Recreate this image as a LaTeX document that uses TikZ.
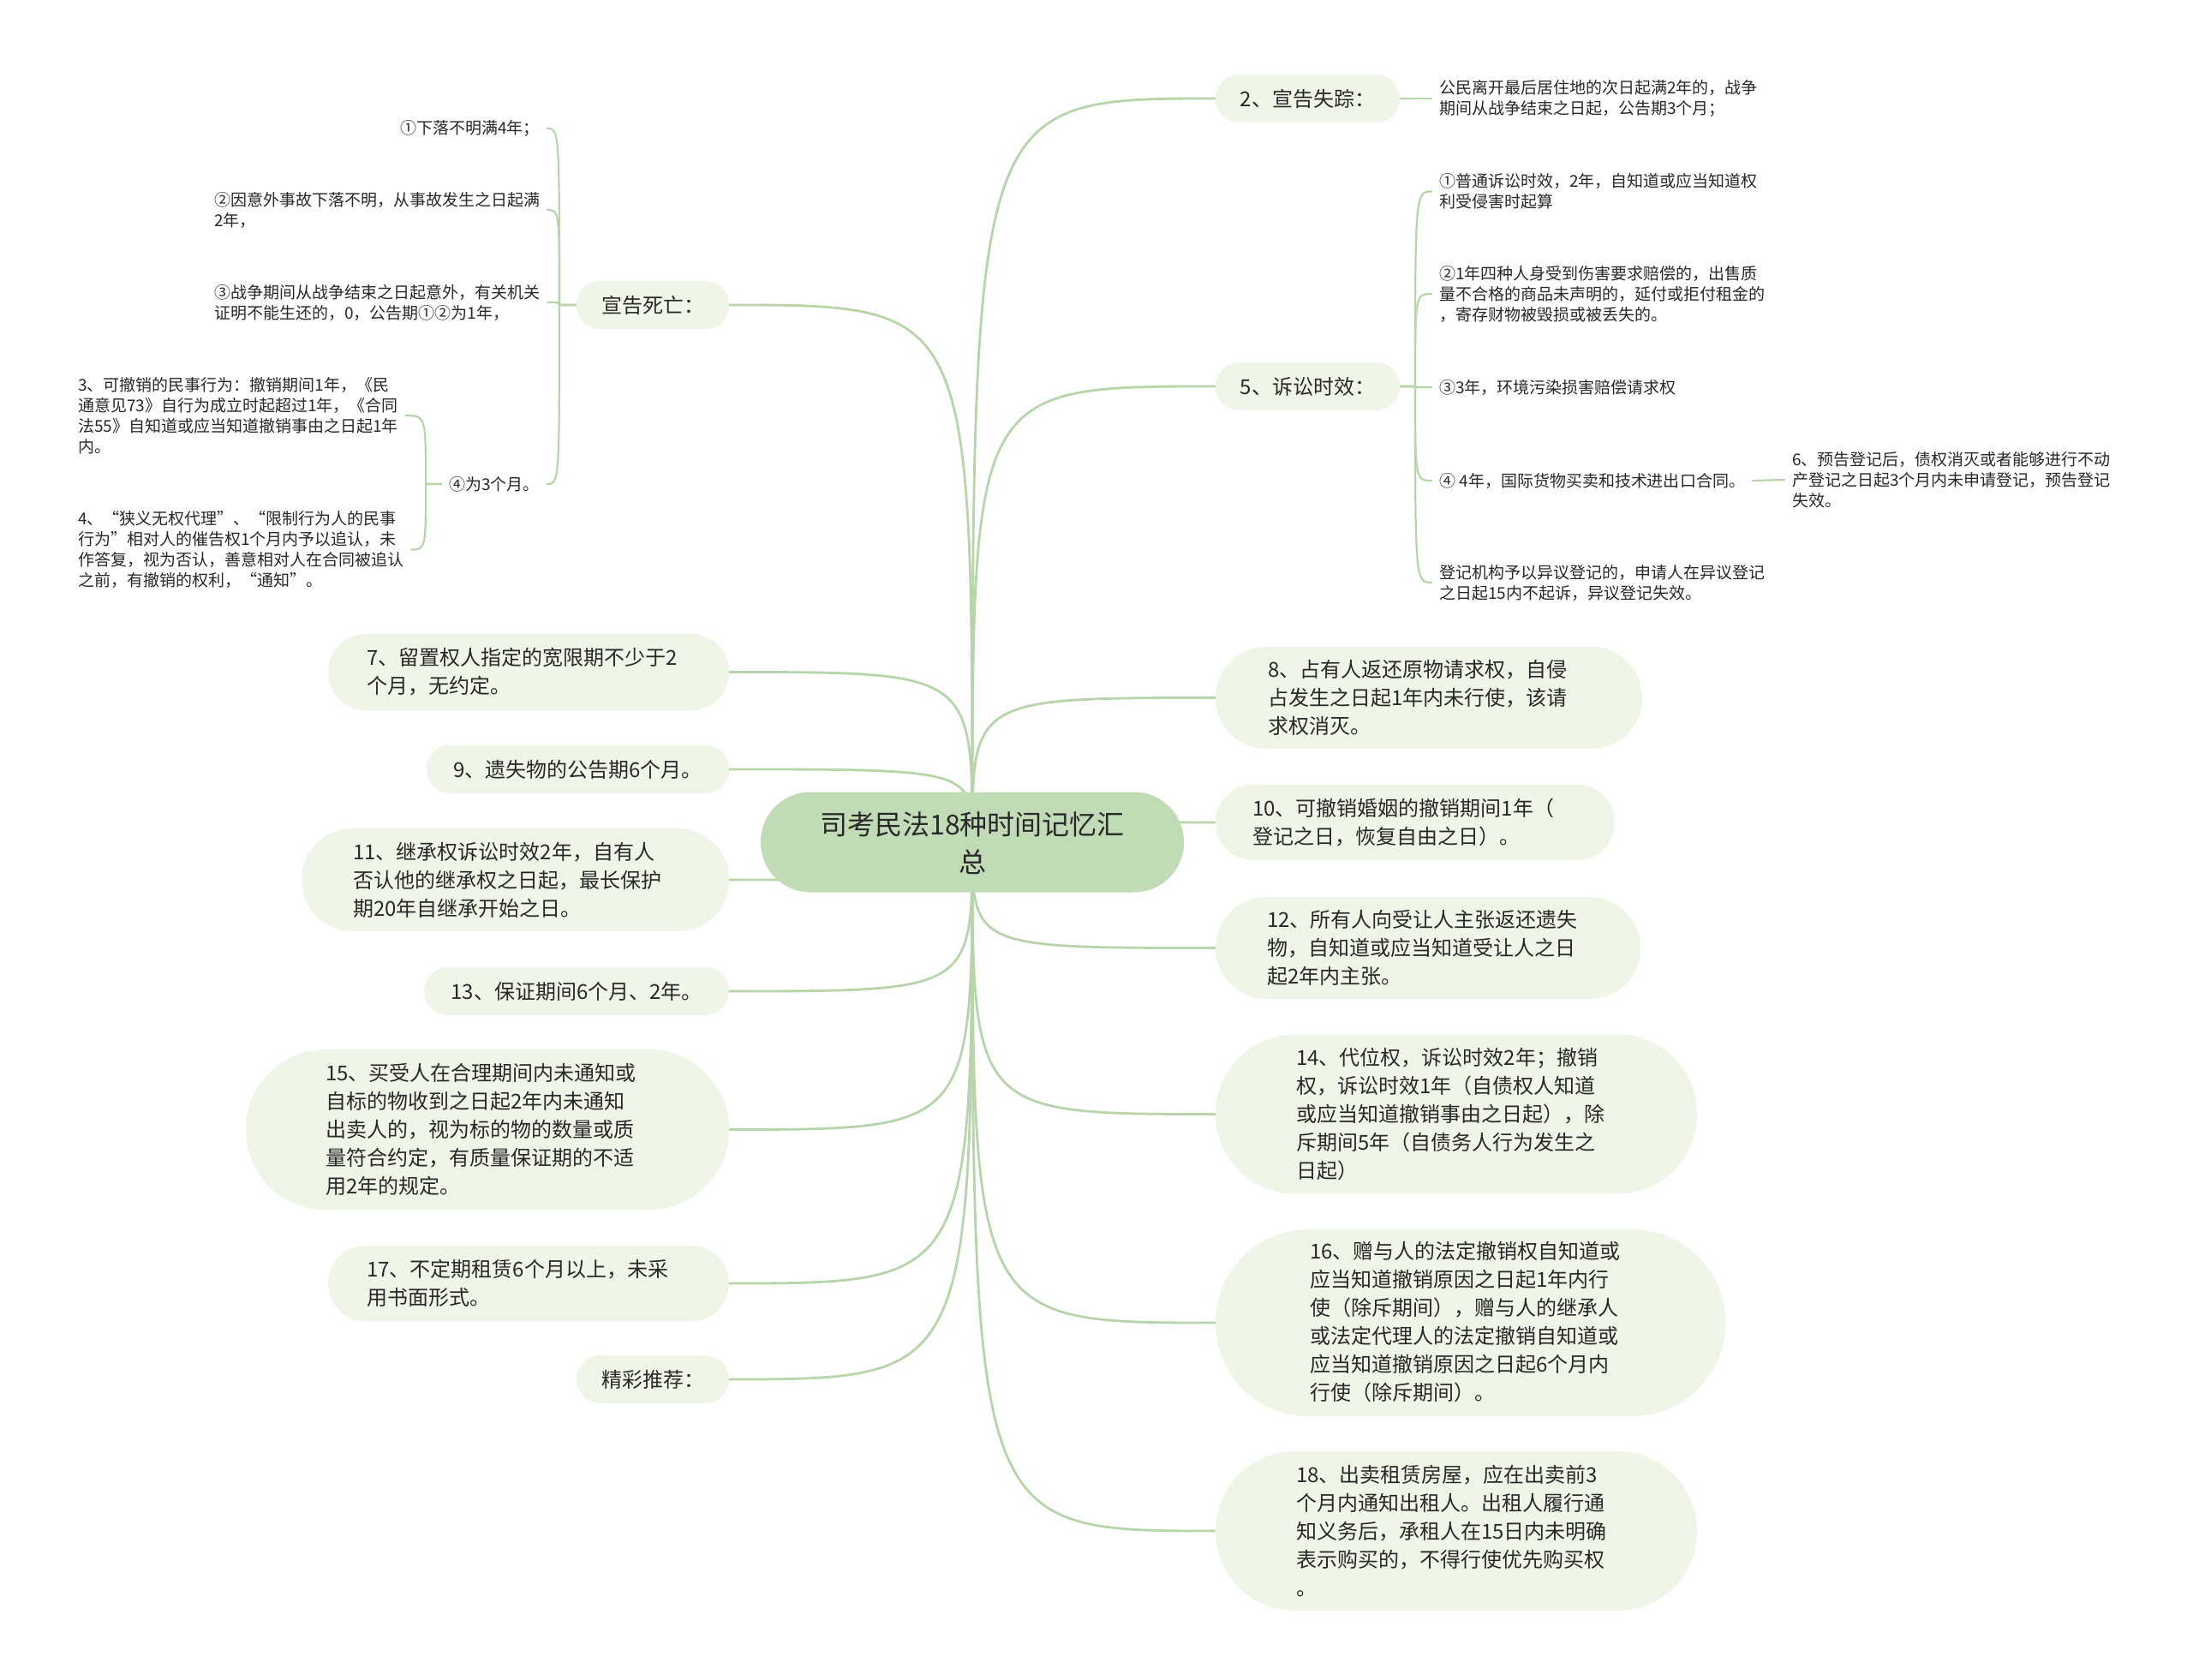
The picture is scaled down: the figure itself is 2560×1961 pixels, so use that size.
\documentclass[tikz,border=0pt]{standalone}
\usepackage{fontspec}
\newfontfamily\cjk{Noto Sans CJK SC}
\usetikzlibrary{calc,backgrounds}
\definecolor{linec}{RGB}{183,212,170}
\definecolor{mainfill}{RGB}{193,219,183}
\definecolor{subfill}{RGB}{239,246,232}
\definecolor{txtc}{RGB}{40,40,40}
\begin{document}
\begin{tikzpicture}[x=1pt,y=-1pt,
  branch/.style={draw=linec,line width=2.8pt},
  twig/.style={draw=linec,line width=2.2pt},
  pill/.style={fill=subfill,draw=none,inner sep=0pt,text=txtc,font=\cjk\fontsize{24}{33}\selectfont},
  mainpill/.style={fill=mainfill,draw=none,inner sep=0pt,rounded corners=58pt,minimum width=494pt,minimum height=117pt},
  subtext/.style={inner sep=0pt,anchor=west,align=left,text=txtc,font=\cjk\fontsize{24}{33}\selectfont},
  leaftext/.style={inner xsep=8pt,inner ysep=0pt,align=left,text=txtc,font=\cjk\fontsize{19}{24}\selectfont},
  titletext/.style={inner sep=0pt,align=center,text=txtc,font=\cjk\fontsize{32}{44}\selectfont}
]
\useasboundingbox (0,0) rectangle (2560,1961);

% ---------- central topic ----------
\node[mainpill] (main) at (1135,983) {};
\node[titletext] (title) at (1135,984) {司考民法18种时间记忆汇\\总};

% ---------- right branches ----------
\node[pill,minimum width=215pt,minimum height=56pt,rounded corners=27.5pt] (n2) at (1526.5,115) {2、宣告失踪：};
\node[pill,minimum width=215pt,minimum height=56pt,rounded corners=27.5pt] (n5) at (1526.5,451) {5、诉讼时效：};
\node[pill,minimum width=498pt,minimum height=119pt,rounded corners=59pt] (n8) at (1668,814.5) {};
\node[subtext] (t8) at (1480,814.5) {8、占有人返还原物请求权，自侵\\占发生之日起1年内未行使，该请\\求权消灭。};
\node[pill,minimum width=466pt,minimum height=88pt,rounded corners=43.5pt] (n10) at (1652,960) {};
\node[subtext] (t10) at (1462,960) {10、可撤销婚姻的撤销期间1年（\\登记之日，恢复自由之日）。};
\node[pill,minimum width=496pt,minimum height=119pt,rounded corners=59pt] (n12) at (1667,1106.5) {};
\node[subtext] (t12) at (1479,1106.5) {12、所有人向受让人主张返还遗失\\物，自知道或应当知道受让人之日\\起2年内主张。};
\node[pill,minimum width=562pt,minimum height=186pt,rounded corners=92.5pt] (n14) at (1700,1300.5) {};
\node[subtext] (t14) at (1513,1300.5) {14、代位权，诉讼时效2年；撤销\\权，诉讼时效1年（自债权人知道\\或应当知道撤销事由之日起），除\\斥期间5年（自债务人行为发生之\\日起）};
\node[pill,minimum width=595pt,minimum height=218pt,rounded corners=108.5pt] (n16) at (1716.5,1544) {};
\node[subtext] (t16) at (1529,1543) {16、赠与人的法定撤销权自知道或\\应当知道撤销原因之日起1年内行\\使（除斥期间），赠与人的继承人\\或法定代理人的法定撤销自知道或\\应当知道撤销原因之日起6个月内\\行使（除斥期间）。};
\node[pill,minimum width=562pt,minimum height=186pt,rounded corners=92.5pt] (n18) at (1700,1787) {};
\node[subtext] (t18) at (1513,1787) {18、出卖租赁房屋，应在出卖前3\\个月内通知出租人。出租人履行通\\知义务后，承租人在15日内未明确\\表示购买的，不得行使优先购买权\\。};

% ---------- left branches ----------
\node[pill,minimum width=178pt,minimum height=56pt,rounded corners=27.5pt] (death) at (762,356) {宣告死亡：};
\node[pill,minimum width=468pt,minimum height=89pt,rounded corners=44pt] (n7) at (617,784.5) {};
\node[subtext] (t7) at (428,784.5) {7、留置权人指定的宽限期不少于2\\个月，无约定。};
\node[pill,minimum width=353pt,minimum height=56pt,rounded corners=27.5pt] (n9) at (674.5,898) {9、遗失物的公告期6个月。};
\node[pill,minimum width=499pt,minimum height=120pt,rounded corners=59.5pt] (n11) at (601.5,1027) {};
\node[subtext] (t11) at (412,1027) {11、继承权诉讼时效2年，自有人\\否认他的继承权之日起，最长保护\\期20年自继承开始之日。};
\node[pill,minimum width=356pt,minimum height=56pt,rounded corners=27.5pt] (n13) at (673,1157) {13、保证期间6个月、2年。};
\node[pill,minimum width=564pt,minimum height=187pt,rounded corners=93pt] (n15) at (569,1318.5) {};
\node[subtext] (t15) at (380,1318.5) {15、买受人在合理期间内未通知或\\自标的物收到之日起2年内未通知\\出卖人的，视为标的物的数量或质\\量符合约定，有质量保证期的不适\\用2年的规定。};
\node[pill,minimum width=468pt,minimum height=88pt,rounded corners=43.5pt] (n17) at (617,1498) {};
\node[subtext] (t17) at (428,1498) {17、不定期租赁6个月以上，未采\\用书面形式。};
\node[pill,minimum width=178pt,minimum height=56pt,rounded corners=27.5pt] (rec) at (762,1610) {精彩推荐：};

% ---------- leaves of 宣告死亡 ----------
\node[leaftext,anchor=east] (L1) at (638,150) {①下落不明满4年；};
\node[leaftext,anchor=west] (L2) at (242,245) {②因意外事故下落不明，从事故发生之日起满\\2年，};
\node[leaftext,anchor=west] (L3) at (242,353) {③战争期间从战争结束之日起意外，有关机关\\证明不能生还的，0，公告期①②为1年，};
\node[leaftext,anchor=east] (L4) at (638,565) {④为3个月。};
\node[leaftext,anchor=west] (L4a) at (83,485) {3、可撤销的民事行为：撤销期间1年，《民\\通意见73》自行为成立时起超过1年，《合同\\法55》自知道或应当知道撤销事由之日起1年\\内。};
\node[leaftext,anchor=west] (L4b) at (83,641.5) {4、“狭义无权代理”、“限制行为人的民事\\行为”相对人的催告权1个月内予以追认，未\\作答复，视为否认，善意相对人在合同被追认\\之前，有撤销的权利，“通知”。};

% ---------- leaves of 宣告失踪 / 诉讼时效 ----------
\node[leaftext,anchor=west] (R2) at (1672,115) {公民离开最后居住地的次日起满2年的，战争\\期间从战争结束之日起，公告期3个月；};
\node[leaftext,anchor=west] (R5a) at (1672,223.5) {①普通诉讼时效，2年，自知道或应当知道权\\利受侵害时起算};
\node[leaftext,anchor=west] (R5b) at (1672,343) {②1年四种人身受到伤害要求赔偿的，出售质\\量不合格的商品未声明的，延付或拒付租金的\\，寄存财物被毁损或被丢失的。};
\node[leaftext,anchor=west] (R5c) at (1672,452) {③3年，环境污染损害赔偿请求权};
\node[leaftext,anchor=west] (R5d) at (1672,561) {④ 4年，国际货物买卖和技术进出口合同。};
\node[leaftext,anchor=west] (R5e) at (1672,680) {登记机构予以异议登记的，申请人在异议登记\\之日起15内不起诉，异议登记失效。};
\node[leaftext,anchor=west] (R6) at (2084,560) {6、预告登记后，债权消灭或者能够进行不动\\产登记之日起3个月内未申请登记，预告登记\\失效。};

\coordinate (jd) at (653,356);
\coordinate (j4) at (497,565);
\coordinate (j5) at (1652,451);

\begin{pgfonlayer}{background}
\fill[white] (0,0) rectangle (2560,1961);
% main branches
\foreach \n in {n2,n5,n8,n10,n12,n14,n16,n18}
  \draw[branch] (main.center) .. controls (main.center |- \n.west) .. (\n.west);
\foreach \n in {death,n7,n9,n11,n13,n15,n17,rec}
  \draw[branch] (main.center) .. controls (main.center |- \n.east) .. (\n.east);
% 宣告死亡 leaves
\foreach \n in {L1,L2,L3,L4}
  \draw[twig] (death.west) -- (jd) .. controls (jd |- \n.east) .. (\n.east);
\foreach \n in {L4a,L4b}
  \draw[twig] (L4.west) -- (j4) .. controls (j4 |- \n.east) .. (\n.east);
% 宣告失踪 leaf
\draw[twig] (n2.east) -- (R2.west);
% 诉讼时效 leaves
\foreach \n in {R5a,R5b,R5c,R5d,R5e}
  \draw[twig] (n5.east) -- (j5) .. controls (j5 |- \n.west) .. (\n.west);
\draw[twig] (R5d.east) -- (R6.west);
\end{pgfonlayer}
\end{tikzpicture}
\end{document}
